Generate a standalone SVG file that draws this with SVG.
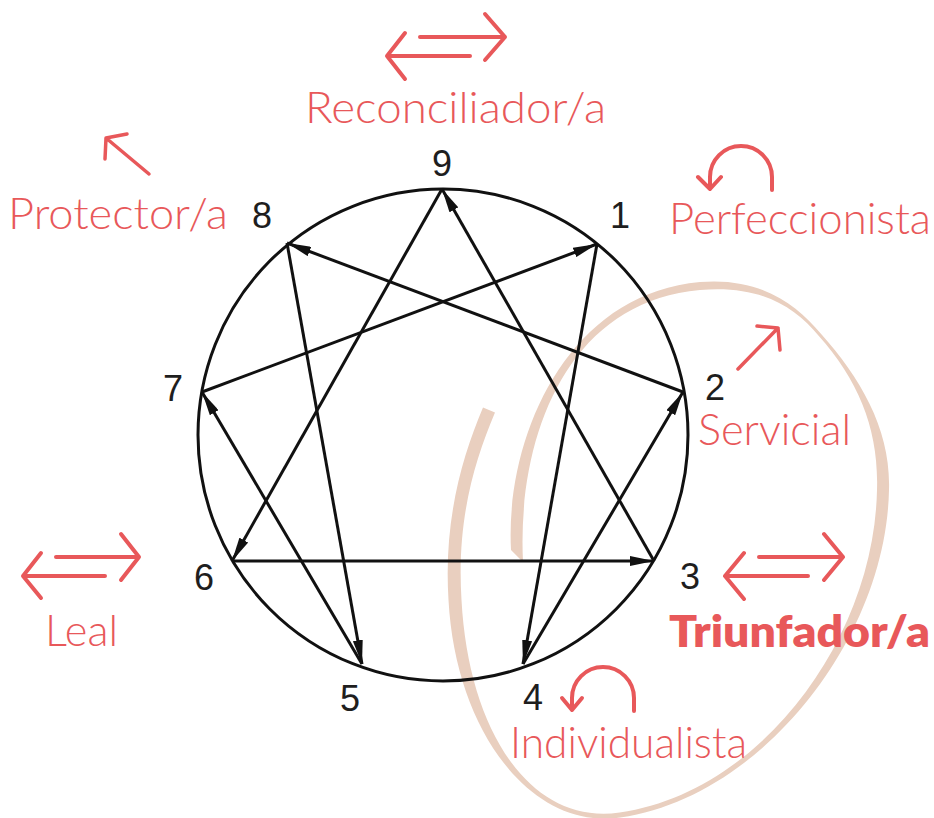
<svg xmlns="http://www.w3.org/2000/svg" width="934" height="818" viewBox="0 0 934 818">
<defs>
<style>
.num{font-family:"Liberation Sans",Arial,sans-serif;font-size:36px;fill:#1e1e1e;text-anchor:middle}
.lbl{font-family:Lato,"Open Sans",sans-serif;font-size:44px;font-weight:300;fill:#E8585A}
.lblb{font-family:Lato,"Open Sans",sans-serif;font-size:44px;font-weight:800;fill:#E8585A}
.ic{fill:none;stroke:#E8585A;stroke-width:4;stroke-linecap:round;stroke-linejoin:round}
.ln{stroke:#111;stroke-width:3;fill:none}
</style>
<marker id="ah" viewBox="0 0 24 10" refX="24" refY="5" markerWidth="24" markerHeight="10" markerUnits="userSpaceOnUse" orient="auto">
<path d="M0,0 L24,5 L0,10 z" fill="#111"/>
</marker>
</defs>
<rect width="934" height="818" fill="#fff"/>

<g id="loop">
<path fill="#E9CFBF" d="M511,550 C505,440 565,294 700,282 C760,277 796.15,304.04 821.15,334.04 C861.15,379.04 891,430 889,490 C886,640 760.35,797.5 620.35,817.5 C530.35,830.5 455.5,730 448.5,600 C443.5,520 462,457.5 483,407.5 L495,412.5 C474,462.5 456.5,520 461.5,600 C468.5,730 529.65,825.5 619.65,812.5 C759.65,792.5 874,640 877,490 C879,430 858.85,380.96 818.85,335.96 C793.85,305.96 760,285 700,290 C565,302 517,440 523,562 Z"/>
</g>

<g id="circle">
<ellipse cx="443" cy="435" rx="245" ry="246" class="ln"/>
</g>

<g id="connectors">
<line class="ln" x1="683" y1="392" x2="287" y2="243" marker-end="url(#ah)"/>
<line class="ln" x1="654" y1="561" x2="442" y2="189" marker-end="url(#ah)"/>
<line class="ln" x1="202" y1="392" x2="597" y2="244" marker-end="url(#ah)"/>
<line class="ln" x1="523" y1="664" x2="683" y2="392" marker-end="url(#ah)"/>
<line class="ln" x1="232" y1="561" x2="654" y2="561" marker-end="url(#ah)"/>
<line class="ln" x1="597" y1="244" x2="523" y2="664" marker-end="url(#ah)"/>
<line class="ln" x1="287" y1="243" x2="362" y2="664" marker-end="url(#ah)"/>
<line class="ln" x1="442" y1="189" x2="232" y2="561" marker-end="url(#ah)"/>
<line class="ln" x1="362" y1="664" x2="202" y2="392" marker-end="url(#ah)"/>
</g>

<g id="node-9">
<text class="num" x="442" y="176">9</text>
<path class="ic" d="M420,37 L505,37 M485,14 L505,37 L485,60 M470,56 L387,56 M405,33 L387,56 L405,79"/>
<text class="lbl" x="305" y="123" textLength="301" lengthAdjust="spacingAndGlyphs">Reconciliador/a</text>
</g>
<g id="node-1">
<text class="num" x="620" y="228">1</text>
<path class="ic" d="M772,190 L772,177 A31,31 0 0 0 710,177 L710,189 M698,177 L710,189 L721,177"/>
<text class="lbl" x="669" y="234" textLength="262" lengthAdjust="spacingAndGlyphs">Perfeccionista</text>
</g>
<g id="node-2">
<text class="num" x="715" y="400">2</text>
<path class="ic" style="stroke-width:3.5" d="M738,369 L778,328 M757,326 L778,328 L780,350"/>
<text class="lbl" x="698" y="445" textLength="153" lengthAdjust="spacingAndGlyphs">Servicial</text>
</g>
<g id="node-3">
<text class="num" x="690" y="589">3</text>
<path class="ic" d="M759,557 L843,557 M824,534 L843,557 L824,580 M808,576 L725,576 M744,553 L725,576 L744,599"/>
<text class="lblb" x="669" y="647" textLength="261" lengthAdjust="spacingAndGlyphs">Triunfador/a</text>
</g>
<g id="node-4">
<text class="num" x="533" y="710">4</text>
<path class="ic" d="M634,711 L634,698 A31,31 0 0 0 572,698 L572,710 M562,698 L572,710 L582,698"/>
<text class="lbl" x="510" y="758" textLength="237" lengthAdjust="spacingAndGlyphs">Individualista</text>
</g>
<g id="node-5">
<text class="num" x="350" y="711">5</text>
</g>
<g id="node-6">
<text class="num" x="204" y="590">6</text>
<path class="ic" d="M56,557 L139,557 M121,534 L139,557 L121,580 M105,576 L23,576 M41,553 L23,576 L41,598"/>
<text class="lbl" x="45" y="646" textLength="73" lengthAdjust="spacingAndGlyphs">Leal</text>
</g>
<g id="node-7">
<text class="num" x="173" y="401">7</text>
</g>
<g id="node-8">
<text class="num" x="262" y="228">8</text>
<path class="ic" style="stroke-width:3.5" d="M149,174 L106,138 M105,159 L106,138 L127,134"/>
<text class="lbl" x="8" y="229" textLength="220" lengthAdjust="spacingAndGlyphs">Protector/a</text>
</g>
</svg>
